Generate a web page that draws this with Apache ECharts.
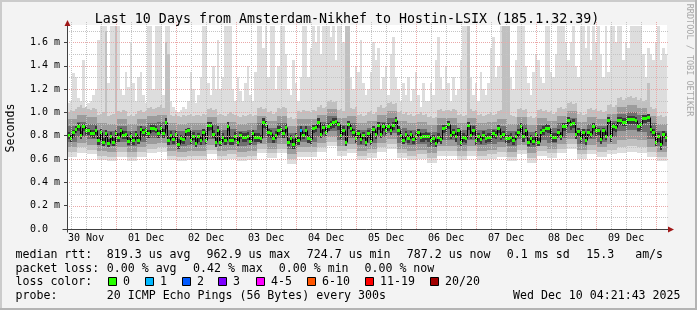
<!DOCTYPE html>
<html><head><meta charset="utf-8">
<script src="https://cdn.jsdelivr.net/npm/echarts@6.0.0/dist/echarts.min.js"></script>
<style>html,body{margin:0;padding:0;background:#f3f3f3}#c{width:697px;height:310px}</style>
</head><body><div id="c"></div>
<script>
// ---- time axis (hours since 30 Nov 00:00) ----
const startHour = 4.362;          // 30 Nov 04:21:43
const spanHours = 240;            // 10 days
const dayLabels = ['30 Nov','01 Dec','02 Dec','03 Dec','04 Dec','05 Dec','06 Dec','07 Dec','08 Dec','09 Dec'];
const dayLabelHours = [12,36,60,84,108,132,156,180,204,228];
const yTickValues = [0,0.2,0.4,0.6,0.8,1.0,1.2,1.4,1.6];
const yTickLabels = ['0.0','0.2 m','0.4 m','0.6 m','0.8 m','1.0 m','1.2 m','1.4 m','1.6 m'];
const yMax = 1.75;

// ---- hourly median rtt (ms) ----
const median = [
0.809,0.780,0.829,0.857,0.886,0.809,0.880,0.851,0.846,0.823,0.823,0.851,0.760,0.834,0.743,0.823,0.737,0.800,0.749,0.823,0.789,0.851,0.809,0.811,
0.754,0.800,0.760,0.811,0.766,0.857,0.829,0.846,0.823,0.863,0.863,0.857,0.823,0.863,0.823,0.914,0.760,0.809,0.771,0.817,0.731,0.780,0.771,0.837,
0.846,0.766,0.800,0.737,0.794,0.760,0.829,0.766,0.891,0.891,0.817,0.743,0.851,0.743,0.789,0.760,0.886,0.760,0.760,0.800,0.743,0.806,0.791,0.789,
0.800,0.754,0.823,0.789,0.789,0.783,0.920,0.903,0.834,0.823,0.783,0.806,0.851,0.857,0.823,0.874,0.749,0.777,0.731,0.794,0.760,0.851,0.806,0.851,
0.780,0.771,0.866,0.874,0.920,0.817,0.874,0.829,0.886,0.903,0.920,0.926,0.897,0.809,0.851,0.749,0.903,0.869,0.834,0.783,0.823,0.771,0.806,0.749,
0.823,0.754,0.857,0.811,0.891,0.817,0.880,0.851,0.880,0.851,0.891,0.931,0.851,0.806,0.766,0.817,0.780,0.811,0.771,0.800,0.834,0.789,0.794,0.800,
0.794,0.760,0.780,0.737,0.789,0.771,0.866,0.874,0.903,0.806,0.829,0.794,0.846,0.749,0.789,0.777,0.891,0.806,0.851,0.760,0.794,0.771,0.809,0.777,
0.789,0.789,0.823,0.809,0.863,0.800,0.817,0.783,0.783,0.789,0.760,0.800,0.834,0.886,0.794,0.846,0.749,0.777,0.754,0.817,0.749,0.834,0.851,0.869,
0.866,0.806,0.789,0.789,0.834,0.800,0.880,0.880,0.931,0.897,0.909,0.811,0.840,0.783,0.834,0.760,0.829,0.817,0.880,0.846,0.846,0.771,0.846,0.800,
0.931,0.794,0.886,0.874,0.931,0.931,0.920,0.920,0.943,0.943,0.943,0.931,0.880,0.897,0.954,0.954,0.963,0.857,0.834,0.749,0.794,0.725,0.817,0.787];

// ---- hourly lost pings (of 20) ----
const loss = [
0,0,0,0,0,0,0,0,0,0,0,0,0,0,0,0,0,0,0,0,0,0,0,0,
0,0,0,0,0,0,0,0,0,0,0,0,0,0,0,0,0,0,0,0,0,0,0,0,
0,0,0,0,0,0,0,0,0,0,0,0,0,0,0,0,0,0,0,0,0,0,0,0,
0,0,0,0,0,0,0,0,0,0,0,0,0,0,0,0,0,0,0,0,0,1,0,0,
0,0,0,0,0,0,0,0,0,0,0,0,0,0,0,0,0,0,0,0,0,0,0,0,
0,0,0,0,0,0,0,0,0,0,0,0,0,0,0,0,0,0,0,0,0,0,0,0,
0,0,0,0,0,0,0,0,0,0,0,0,0,0,0,0,0,0,0,0,0,0,0,0,
0,0,0,0,0,0,0,0,0,0,0,0,0,0,0,0,0,0,0,0,0,0,0,0,
0,0,0,0,0,0,0,0,0,0,0,0,0,0,0,0,0,0,0,0,0,0,0,0,
0,0,0,0,0,0,0,0,0,0,0,0,0,0,0,0,0,0,0,0,0,0,0,0];

// ---- smoke: hourly highest ping ----
const maxPing = [
1.08,1.10,1.34,1.30,1.12,1.10,1.45,1.05,1.08,1.10,1.15,1.20,1.62,1.74,1.74,1.74,1.25,1.74,1.74,1.74,1.74,1.20,1.15,1.35,
1.22,1.60,1.25,1.10,1.30,1.35,1.15,1.08,1.74,1.74,1.20,1.74,1.74,1.74,1.15,1.74,1.74,1.10,1.05,1.02,1.00,1.02,1.05,1.03,
1.10,1.35,1.20,1.08,1.15,1.30,1.74,1.74,1.25,1.15,1.40,1.20,1.62,1.20,1.30,1.74,1.74,1.74,1.20,1.10,1.30,1.18,1.10,1.25,
1.40,1.15,1.10,1.35,1.74,1.74,1.55,1.74,1.30,1.74,1.74,1.20,1.40,1.74,1.74,1.50,1.20,1.15,1.45,1.25,1.10,1.30,1.74,1.74,
1.30,1.55,1.74,1.60,1.74,1.50,1.74,1.74,1.74,1.65,1.74,1.45,1.74,1.74,1.60,1.74,1.74,1.30,1.20,1.40,1.35,1.62,1.25,1.15,
1.20,1.35,1.60,1.45,1.55,1.20,1.30,1.40,1.15,1.50,1.65,1.30,1.20,1.10,1.25,1.15,1.30,1.10,1.20,1.35,1.15,1.05,1.25,1.10,
1.10,1.25,1.15,1.45,1.65,1.30,1.20,1.40,1.25,1.10,1.30,1.15,1.20,1.45,1.74,1.74,1.74,1.30,1.15,1.25,1.10,1.35,1.20,1.15,
1.25,1.55,1.65,1.30,1.40,1.74,1.74,1.74,1.74,1.30,1.20,1.45,1.74,1.74,1.74,1.40,1.25,1.15,1.35,1.50,1.45,1.30,1.25,1.74,
1.74,1.35,1.30,1.50,1.74,1.74,1.74,1.60,1.45,1.60,1.74,1.40,1.30,1.74,1.74,1.55,1.74,1.45,1.74,1.60,1.74,1.50,1.30,1.74,
1.35,1.74,1.74,1.60,1.74,1.74,1.45,1.60,1.55,1.74,1.74,1.74,1.74,1.74,1.50,1.30,1.55,1.50,1.45,1.60,1.74,1.45,1.55,1.50];

// ---- smoke: hourly 2nd highest ping ----
const hi2 = [
1.00,1.02,1.01,1.03,1.05,1.06,1.04,1.05,1.03,1.02,1.04,1.03,0.98,0.99,1.00,1.70,0.97,0.98,0.99,1.74,1.01,1.00,1.02,1.01,
0.97,0.98,0.97,0.99,1.01,1.02,1.00,1.01,1.04,1.05,1.03,1.04,1.05,1.06,1.04,1.60,1.50,0.98,0.97,0.99,0.97,0.96,0.98,0.97,
0.98,0.99,0.97,0.98,0.98,0.97,0.99,0.98,1.03,1.04,1.02,1.03,0.98,0.99,0.98,0.97,0.99,1.00,0.99,0.98,0.97,0.96,0.98,0.97,
0.98,0.99,0.97,0.98,1.04,1.05,1.03,1.04,1.00,1.01,0.99,1.00,1.04,1.03,1.05,1.04,0.95,0.96,0.94,0.95,1.01,1.00,1.02,1.01,
1.01,1.00,1.02,1.01,1.05,1.06,1.04,1.05,1.10,1.11,1.09,1.10,1.02,1.03,1.01,1.74,1.74,1.04,1.03,1.05,0.98,0.99,0.97,0.98,
1.00,1.01,0.99,1.00,1.05,1.06,1.04,1.05,1.08,1.09,1.07,1.08,1.00,1.01,0.99,1.00,0.98,0.99,0.97,0.98,0.99,1.00,0.98,0.99,
0.96,0.97,0.95,0.96,1.02,1.03,1.01,1.02,1.02,1.01,1.03,1.02,0.98,0.99,0.97,0.98,1.74,1.03,1.01,1.02,0.98,0.99,0.97,0.98,
0.99,1.00,0.98,0.99,1.01,1.02,1.74,1.74,1.74,0.98,0.97,0.96,1.03,1.04,1.02,1.03,0.96,0.97,0.95,0.96,1.02,1.03,1.01,1.02,
1.00,1.01,0.99,1.00,1.04,1.05,1.03,1.04,1.08,1.09,1.07,1.08,0.99,1.00,0.98,0.99,1.03,1.04,1.02,1.03,1.01,1.02,1.00,1.01,
1.06,1.07,1.05,1.06,1.12,1.13,1.11,1.12,1.13,1.14,1.12,1.13,1.11,1.12,1.10,1.11,1.25,1.05,1.03,1.04,0.97,0.98,0.96,0.97];

// ---- smoke: 4-hourly inner percentiles ----
const hi3 = [0.94,0.98,0.96,0.91,0.90,0.94,0.90,0.94,0.97,0.98,0.91,0.90, 0.91,0.91,0.96,0.91,0.92,0.90,0.91,0.97,0.93,0.97,0.88,0.94,
  0.94,0.98,1.03,0.95,0.97,0.91,0.93,0.98,1.01,0.93,0.91,0.92, 0.89,0.95,0.95,0.91,0.95,0.91,0.92,0.94,0.90,0.96,0.89,0.95,
  0.93,0.97,1.01,0.92,0.96,0.94,0.99,1.05,1.06,1.04,0.97,0.90];
const hi4 = [0.88,0.92,0.90,0.85,0.84,0.88,0.84,0.88,0.91,0.92,0.85,0.84, 0.85,0.85,0.90,0.85,0.86,0.84,0.85,0.91,0.87,0.91,0.82,0.88,
  0.88,0.92,0.97,0.89,0.91,0.85,0.87,0.92,0.95,0.87,0.85,0.86, 0.83,0.89,0.89,0.85,0.89,0.85,0.86,0.88,0.84,0.90,0.83,0.89,
  0.87,0.91,0.95,0.86,0.90,0.88,0.93,0.99,1.00,0.98,0.91,0.84];
const lo4 = [0.75,0.79,0.77,0.72,0.71,0.75,0.71,0.75,0.78,0.79,0.72,0.71, 0.72,0.72,0.77,0.72,0.73,0.71,0.72,0.78,0.74,0.78,0.69,0.75,
  0.75,0.79,0.84,0.76,0.78,0.72,0.74,0.79,0.82,0.74,0.72,0.73, 0.70,0.76,0.76,0.72,0.76,0.72,0.73,0.75,0.71,0.77,0.70,0.76,
  0.74,0.78,0.82,0.73,0.77,0.75,0.79,0.84,0.85,0.83,0.77,0.71];
const lo3 = [0.70,0.74,0.72,0.67,0.66,0.70,0.66,0.70,0.73,0.74,0.67,0.66, 0.67,0.67,0.72,0.67,0.68,0.66,0.67,0.73,0.69,0.73,0.64,0.70,
  0.70,0.74,0.79,0.71,0.73,0.67,0.69,0.74,0.77,0.69,0.67,0.68, 0.65,0.71,0.71,0.67,0.71,0.67,0.68,0.70,0.66,0.72,0.65,0.71,
  0.69,0.73,0.77,0.68,0.72,0.70,0.73,0.76,0.77,0.76,0.70,0.66];
const lo2 = [0.66,0.70,0.68,0.63,0.62,0.66,0.62,0.66,0.69,0.70,0.63,0.62, 0.63,0.63,0.68,0.63,0.64,0.62,0.63,0.69,0.65,0.69,0.60,0.66,
  0.66,0.70,0.75,0.67,0.69,0.63,0.65,0.70,0.73,0.65,0.63,0.64, 0.61,0.67,0.67,0.63,0.67,0.63,0.64,0.66,0.62,0.68,0.61,0.67,
  0.65,0.69,0.73,0.64,0.68,0.66,0.68,0.70,0.71,0.70,0.66,0.62];
const minPing = [0.62,0.65,0.64,0.59,0.58,0.62,0.58,0.62,0.65,0.66,0.59,0.58, 0.59,0.59,0.64,0.59,0.60,0.58,0.59,0.65,0.61,0.65,0.56,0.62,
  0.62,0.66,0.71,0.63,0.65,0.59,0.61,0.66,0.69,0.61,0.59,0.60, 0.57,0.63,0.63,0.59,0.63,0.59,0.60,0.62,0.58,0.64,0.57,0.63,
  0.61,0.65,0.69,0.60,0.64,0.62,0.64,0.65,0.66,0.65,0.62,0.58];

// ---- smoke: hourly core (pings around the median) ----
const coreHi = [
.83,.81,.85,.88,.91,.84,.90,.88,.87,.85,.85,.88,.80,.86,.78,.85,.77,.83,.78,.85,.82,.87,.84,.84,
.79,.83,.79,.84,.80,.88,.86,.87,.85,.89,.89,.88,.85,.89,.86,.95,.80,.84,.80,.84,.77,.81,.80,.86,
.87,.80,.83,.77,.82,.79,.86,.80,.92,.92,.85,.78,.88,.78,.82,.79,.92,.80,.79,.83,.78,.83,.82,.82,
.83,.79,.85,.82,.82,.81,.95,.93,.86,.85,.81,.84,.88,.88,.85,.90,.78,.81,.77,.82,.79,.88,.83,.88,
.81,.80,.89,.90,.95,.85,.90,.86,.91,.93,.95,.95,.92,.84,.88,.78,.93,.90,.86,.81,.85,.80,.83,.78,
.85,.79,.88,.84,.92,.84,.91,.88,.91,.88,.92,.96,.88,.83,.80,.84,.81,.84,.80,.83,.86,.82,.82,.83,
.82,.79,.81,.77,.82,.80,.89,.90,.93,.84,.86,.82,.87,.78,.82,.81,.92,.84,.88,.79,.82,.80,.84,.81,
.82,.82,.85,.84,.89,.83,.84,.81,.81,.82,.79,.83,.86,.91,.82,.87,.78,.81,.79,.84,.78,.86,.88,.90,
.89,.84,.82,.82,.86,.83,.91,.91,.96,.92,.94,.84,.87,.81,.86,.79,.86,.84,.91,.87,.87,.80,.87,.83,
.96,.82,.91,.90,.96,.96,.95,.95,.97,.97,.97,.96,.91,.92,.98,.98,.99,.88,.86,.78,.82,.76,.84,.82];
const coreLo = [
.77,.75,.79,.82,.84,.77,.84,.81,.81,.79,.78,.81,.72,.80,.71,.78,.70,.76,.71,.79,.75,.81,.77,.77,
.72,.76,.72,.77,.73,.82,.79,.80,.78,.82,.83,.82,.78,.82,.78,.86,.72,.77,.73,.78,.69,.74,.73,.80,
.80,.73,.76,.70,.75,.72,.79,.73,.84,.85,.78,.70,.81,.71,.75,.72,.84,.72,.72,.76,.71,.77,.75,.75,
.76,.72,.78,.75,.75,.74,.87,.86,.79,.78,.74,.77,.81,.82,.78,.83,.71,.74,.69,.75,.72,.81,.77,.81,
.74,.73,.82,.83,.87,.78,.83,.79,.84,.86,.87,.88,.85,.77,.81,.71,.86,.83,.79,.74,.78,.73,.77,.71,
.78,.72,.82,.77,.85,.78,.84,.81,.84,.81,.85,.89,.81,.77,.73,.78,.74,.77,.73,.76,.79,.75,.75,.76,
.75,.72,.74,.70,.75,.73,.82,.83,.86,.77,.79,.75,.80,.71,.75,.74,.85,.77,.81,.72,.75,.73,.77,.74,
.75,.75,.78,.77,.82,.76,.78,.74,.74,.75,.72,.76,.79,.84,.75,.80,.71,.74,.72,.78,.71,.79,.81,.83,
.82,.77,.75,.75,.79,.76,.84,.84,.89,.85,.87,.77,.80,.74,.79,.72,.79,.78,.84,.80,.81,.73,.80,.76,
.89,.75,.84,.83,.89,.89,.88,.88,.90,.90,.90,.89,.84,.85,.91,.91,.92,.82,.79,.71,.75,.68,.78,.75];

// ---- legend ----
const lossColors = ['#26ff00','#00b8ff','#0059ff','#7e00ff','#ff00ff','#ff5500','#ff0000','#a10000'];
const lossLabels = ['0','1','2','3','4-5','6-10','11-19','20/20'];

const lens = [median.length, loss.length, maxPing.length, hi2.length, coreHi.length, coreLo.length, hi3.length, hi4.length, lo4.length, lo3.length, lo2.length, minPing.length];
if (lens.slice(0,6).some(n => n !== 240) || lens.slice(6).some(n => n !== 60)) throw new Error('array lengths ' + lens.join(','));

function lossIdx(c){ return c===0?0: c===1?1: c===2?2: c===3?3: c<=5?4: c<=10?5: c<=19?6:7; }

function bandData(loArr, loSpan, hiArr, hiSpan) {
  const out = [];
  for (let i = 0; i < median.length; i++) {
    out.push([startHour + i, startHour + i + 1, loArr[Math.floor(i / loSpan)], hiArr[Math.floor(i / hiSpan)]]);
  }
  return out;
}
function bandSeries(data, color, z) {
  return {
    type: 'custom', z: z, silent: true, clip: true, animation: false,
    encode: { x: [0, 1], y: [2, 3] },
    data: data,
    renderItem: function (params, api) {
      const a = api.coord([api.value(0), api.value(3)]);
      const b = api.coord([api.value(1), api.value(2)]);
      const x0 = Math.round(a[0]), x1 = Math.round(b[0]);
      const y0 = Math.round(a[1]), y1 = Math.round(b[1]);
      return { type: 'rect', shape: { x: x0, y: y0, width: x1 - x0, height: y1 - y0 }, style: { fill: color } };
    }
  };
}

const xMin = startHour, xMax = startHour + spanHours;
const hGrid = [];   // [value, major]
for (let k = 1; k <= 17; k++) hGrid.push([k / 10, k % 2 === 0 ? 1 : 0]);
const vGrid = [];
for (let h = 6; h < xMax; h += 6) if (h > xMin) vGrid.push([h, h % 24 === 0 ? 1 : 0]);
const minorColor = '#c4c4c4', majorColor = '#eaa8a8';

const medData = median.map((v, i) => [startHour + i, startHour + i + 1, v, i > 0 ? median[i - 1] : v, lossIdx(loss[i])]);

const chart = echarts.init(document.getElementById('c'), null, { width: 697, height: 310, renderer: 'canvas' });
const mono = 'DejaVu Sans Mono';
function findIdx(arr, v){ for (let i=0;i<arr.length;i++) if (Math.abs(arr[i]-v)<1e-6) return i; return -1; }

chart.setOption({
  backgroundColor: '#f3f3f3',
  animation: false,
  grid: { left: 67, top: 25, width: 600, height: 204, show: true, backgroundColor: '#ffffff', borderWidth: 0 },
  xAxis: {
    type: 'value', min: xMin, max: xMax,
    axisLine: { show: false }, axisTick: { show: false }, splitLine: { show: false },
    axisLabel: { customValues: dayLabelHours, formatter: v => { const i = findIdx(dayLabelHours, v); return i >= 0 ? dayLabels[i] : ''; },
      fontFamily: mono, fontSize: 10, color: '#000', margin: 4 }
  },
  yAxis: {
    type: 'value', min: 0, max: yMax,
    axisLine: { show: false }, splitLine: { show: false },
    axisTick: { show: true, customValues: yTickValues, length: 3, lineStyle: { color: '#404040' } },
    axisLabel: { customValues: yTickValues, formatter: v => { const i = findIdx(yTickValues, v); return i >= 0 ? yTickLabels[i] : ''; },
      fontFamily: mono, fontSize: 10, color: '#000', align: 'left', margin: 37 }
  },
  series: [
    bandSeries(bandData(minPing, 4, maxPing, 1), '#dddddd', 1),
    bandSeries(bandData(lo2, 4, hi2, 1), '#c0c0c0', 2),
    bandSeries(bandData(lo3, 4, hi3, 4), '#9c9c9c', 3),
    bandSeries(bandData(lo4, 4, hi4, 4), '#707070', 4),
    bandSeries(bandData(coreLo, 1, coreHi, 1), '#3a3a3a', 5),
    {
      type: 'custom', z: 6, silent: true, clip: true, animation: false,
      encode: { x: [0, 1], y: [2] },
      data: medData,
      renderItem: function (params, api) {
        const a = api.coord([api.value(0), api.value(2)]);
        const b = api.coord([api.value(1), api.value(2)]);
        const p = api.coord([api.value(0), api.value(3)]);
        const x0 = Math.round(a[0]), x1 = Math.round(b[0]);
        const y = Math.round(a[1]), yp = Math.round(p[1]);
        return { type: 'group', children: [
          { type: 'line', shape: { x1: x0 + 0.5, y1: yp + 0.5, x2: x0 + 0.5, y2: y + 0.5 }, style: { stroke: '#000', lineWidth: 1 } },
          { type: 'line', shape: { x1: x0, y1: y + 0.5, x2: x1, y2: y + 0.5 }, style: { stroke: '#000', lineWidth: 1 } },
          { type: 'rect', shape: { x: x0, y: y - 1, width: x1 - x0, height: 3 }, style: { fill: lossColors[api.value(4)] } }
        ] };
      }
    },
    {
      type: 'custom', z: 10, silent: true, clip: false, animation: false,
      encode: { y: 0 }, data: hGrid,
      renderItem: function (params, api) {
        const a = api.coord([xMin, api.value(0)]);
        const b = api.coord([xMax, api.value(0)]);
        const y = Math.round(a[1]) + 0.5;
        return { type: 'line', shape: { x1: Math.round(a[0]), y1: y, x2: Math.round(b[0]) + 1, y2: y },
          style: { stroke: api.value(1) ? majorColor : minorColor, lineWidth: 1, lineDash: [1, 1] } };
      }
    },
    {
      type: 'custom', z: 10, silent: true, clip: false, animation: false,
      encode: { x: 0 }, data: vGrid,
      renderItem: function (params, api) {
        const a = api.coord([api.value(0), 0]);
        const b = api.coord([api.value(0), yMax]);
        const x = Math.round(a[0]) + 0.5;
        return { type: 'line', shape: { x1: x, y1: Math.round(a[1]), x2: x, y2: Math.round(b[1]) - 3 },
          style: { stroke: api.value(1) ? majorColor : minorColor, lineWidth: 1, lineDash: [1, 1] } };
      }
    }
  ]
});

// ---- axes, arrows, frame and texts ----
const o = chart.convertToPixel({ gridIndex: 0 }, [xMin, 0]);
const e = chart.convertToPixel({ gridIndex: 0 }, [xMax, yMax]);
const ax = Math.round(o[0]) + 0.5, ay = Math.round(o[1]) + 0.5;
const axisColor = '#404040', arrowColor = '#a01818';
function txt(id, text, x, y, size, align, extra) {
  return Object.assign({ type: 'text', id: id, x: x, y: y, z: 100, silent: true,
    style: { text: text, font: size + 'px "DejaVu Sans Mono"', fontFamily: mono, fontSize: size, fill: '#000',
      align: align, textAlign: align, verticalAlign: 'middle', textVerticalAlign: 'middle' } }, extra || {});
}
const g = [];
// frame
g.push({ type: 'rect', z: 90, silent: true, shape: { x: 0, y: 0, width: 697, height: 2 }, style: { fill: '#cbcbcb' } });
g.push({ type: 'rect', z: 90, silent: true, shape: { x: 0, y: 0, width: 2, height: 310 }, style: { fill: '#cbcbcb' } });
g.push({ type: 'rect', z: 90, silent: true, shape: { x: 0, y: 308, width: 697, height: 2 }, style: { fill: '#b4b4b4' } });
g.push({ type: 'rect', z: 90, silent: true, shape: { x: 695, y: 0, width: 2, height: 310 }, style: { fill: '#b4b4b4' } });
// axes
g.push({ type: 'line', z: 95, silent: true, shape: { x1: ax - 5, y1: ay, x2: Math.round(e[0]) + 3, y2: ay }, style: { stroke: axisColor, lineWidth: 1 } });
g.push({ type: 'line', z: 95, silent: true, shape: { x1: ax, y1: ay + 3, x2: ax, y2: Math.round(e[1]) - 3 }, style: { stroke: axisColor, lineWidth: 1 } });
g.push({ type: 'polygon', z: 96, silent: true, shape: { points: [[ax - 3, Math.round(e[1]) + 1], [ax + 3, Math.round(e[1]) + 1], [ax, Math.round(e[1]) - 5]] }, style: { fill: arrowColor } });
g.push({ type: 'polygon', z: 96, silent: true, shape: { points: [[Math.round(e[0]) + 1, ay - 3], [Math.round(e[0]) + 1, ay + 3], [Math.round(e[0]) + 7, ay]] }, style: { fill: arrowColor } });
// title & side texts
g.push(txt('title', 'Last 10 Days from Amsterdam-Nikhef to Hostin-LSIX (185.1.32.39)', 347, 20, 13.3, 'center'));
g.push(txt('ylab', 'Seconds', 10.5, 128, 11.6, 'center', { rotation: Math.PI / 2 }));
g.push(txt('rrd', 'RRDTOOL / TOBI OETIKER', 689, 60, 8.5, 'center', { rotation: -Math.PI / 2 }));
g[g.length - 1].style.fill = '#a8a8a8';
// legend lines
const L1 = 255, L2 = 268.5, L3 = 282, L4 = 296;
[['median rtt:', 15.5], ['819.3 us avg', 106.8], ['962.9 us max', 206.5], ['724.7 us min', 306.8], ['787.2 us now', 406.8], ['0.1 ms sd', 506.8], ['15.3   am/s', 586.3]]
  .forEach((t, i) => g.push(txt('l1_' + i, t[0], t[1], L1, 11.6, 'left')));
[['packet loss:', 15.5], ['0.00 % avg', 106.8], ['0.42 % max', 193], ['0.00 % min', 278.8], ['0.00 % now', 364.5]]
  .forEach((t, i) => g.push(txt('l2_' + i, t[0], t[1], L2, 11.6, 'left')));
g.push(txt('l3_0', 'loss color:', 15.5, L3, 11.6, 'left'));
const boxX = [108, 145, 182, 218, 256, 307, 365, 430];
lossLabels.forEach((lab, i) => {
  g.push({ type: 'rect', z: 100, silent: true, shape: { x: boxX[i] + 0.5, y: 277.5, width: 8, height: 8 }, style: { fill: lossColors[i], stroke: '#000', lineWidth: 1 } });
  g.push(txt('lc_' + i, lab, boxX[i] + 15, L3, 11.6, 'left'));
});
g.push(txt('l4_0', 'probe:', 15.5, L4, 11.6, 'left'));
g.push(txt('l4_1', '20 ICMP Echo Pings (56 Bytes) every 300s', 106.8, L4, 11.6, 'left'));
g.push(txt('l4_2', 'Wed Dec 10 04:21:43 2025', 680.5, L4, 11.6, 'right'));
chart.setOption({ graphic: { elements: g } });
</script>
</body></html>
